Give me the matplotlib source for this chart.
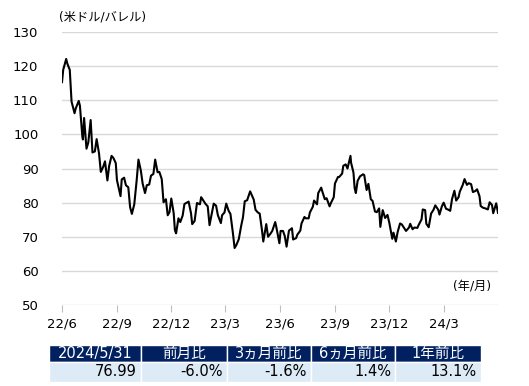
import numpy as np
import pandas as pd
import matplotlib
matplotlib.use('Agg')
import matplotlib.pyplot as plt
from matplotlib.patches import Rectangle

plt.rcParams['font.family'] = ['DejaVu Sans', 'Noto Sans CJK JP']

# WTI crude, USD/barrel
dates = [
    '2022-06-01', '2022-06-03', '2022-06-08', '2022-06-10', '2022-06-14', '2022-06-17', '2022-06-22', '2022-06-24',
    '2022-06-29', '2022-07-01', '2022-07-05', '2022-07-06', '2022-07-08', '2022-07-12', '2022-07-15', '2022-07-19',
    '2022-07-22', '2022-07-26', '2022-07-29', '2022-08-02', '2022-08-05', '2022-08-09', '2022-08-12', '2022-08-16',
    '2022-08-19', '2022-08-23', '2022-08-26', '2022-08-30', '2022-09-01', '2022-09-07', '2022-09-09', '2022-09-13',
    '2022-09-16', '2022-09-20', '2022-09-23', '2022-09-26', '2022-09-30', '2022-10-04', '2022-10-07', '2022-10-11',
    '2022-10-14', '2022-10-18', '2022-10-21', '2022-10-25', '2022-10-28', '2022-11-01', '2022-11-04', '2022-11-08',
    '2022-11-11', '2022-11-15', '2022-11-18', '2022-11-22', '2022-11-25', '2022-11-28', '2022-12-01', '2022-12-05',
    '2022-12-07', '2022-12-09', '2022-12-13', '2022-12-16', '2022-12-20', '2022-12-23', '2022-12-30',
    '2023-01-03', '2023-01-05', '2023-01-09', '2023-01-13', '2023-01-18', '2023-01-20', '2023-01-25', '2023-01-27',
    '2023-01-31', '2023-02-03', '2023-02-07', '2023-02-10', '2023-02-14', '2023-02-17', '2023-02-22', '2023-02-24',
    '2023-02-28', '2023-03-03', '2023-03-07', '2023-03-10', '2023-03-14', '2023-03-17', '2023-03-20', '2023-03-24',
    '2023-03-28', '2023-03-31', '2023-04-03', '2023-04-07', '2023-04-12', '2023-04-14', '2023-04-18', '2023-04-21',
    '2023-04-25', '2023-04-28', '2023-05-02', '2023-05-04', '2023-05-09', '2023-05-12', '2023-05-16', '2023-05-19',
    '2023-05-24', '2023-05-26', '2023-05-31', '2023-06-02', '2023-06-06', '2023-06-09', '2023-06-12', '2023-06-16',
    '2023-06-21', '2023-06-23', '2023-06-28', '2023-06-30', '2023-07-05', '2023-07-07', '2023-07-12', '2023-07-14',
    '2023-07-19', '2023-07-21', '2023-07-26', '2023-07-28', '2023-08-02', '2023-08-04', '2023-08-09', '2023-08-11',
    '2023-08-15', '2023-08-18', '2023-08-23', '2023-08-25', '2023-08-30', '2023-09-01', '2023-09-06', '2023-09-08',
    '2023-09-13', '2023-09-15', '2023-09-19', '2023-09-22', '2023-09-27', '2023-09-28', '2023-10-02', '2023-10-04',
    '2023-10-06', '2023-10-09', '2023-10-13', '2023-10-18', '2023-10-20', '2023-10-24', '2023-10-27', '2023-10-31',
    '2023-11-03', '2023-11-07', '2023-11-10', '2023-11-14', '2023-11-16', '2023-11-20', '2023-11-24', '2023-11-28',
    '2023-12-01', '2023-12-06', '2023-12-08', '2023-12-12', '2023-12-15', '2023-12-19', '2023-12-22', '2023-12-29',
    '2024-01-03', '2024-01-05', '2024-01-09', '2024-01-12', '2024-01-17', '2024-01-19', '2024-01-24', '2024-01-26',
    '2024-01-30', '2024-02-01', '2024-02-05', '2024-02-09', '2024-02-13', '2024-02-16', '2024-02-21', '2024-02-23',
    '2024-02-27', '2024-03-01', '2024-03-05', '2024-03-08', '2024-03-12', '2024-03-15', '2024-03-19', '2024-03-22',
    '2024-03-26', '2024-03-28', '2024-04-02', '2024-04-05', '2024-04-09', '2024-04-12', '2024-04-16', '2024-04-19',
    '2024-04-23', '2024-04-26', '2024-04-30', '2024-05-02', '2024-05-06', '2024-05-10', '2024-05-14', '2024-05-17',
    '2024-05-21', '2024-05-23', '2024-05-28', '2024-05-31',
]
prices = [
    115.3, 118.9, 122.1, 120.7, 118.9, 109.6, 106.2, 107.6,
    109.8, 108.4, 99.5, 98.5, 104.8, 95.8, 97.6, 104.2,
    94.7, 95.0, 98.6, 94.4, 89.0, 90.5, 92.1, 86.5,
    90.8, 93.7, 93.1, 91.6, 86.6, 81.9, 86.8, 87.3,
    85.1, 84.5, 78.7, 76.7, 79.5, 86.5, 92.6, 89.4,
    85.6, 82.8, 85.1, 85.3, 87.9, 88.4, 92.6, 88.9,
    89.0, 86.9, 80.1, 81.0, 76.3, 77.2, 81.2, 76.9,
    72.0, 71.0, 75.4, 74.3, 76.2, 79.6, 80.3,
    76.9, 73.7, 74.6, 79.9, 79.5, 81.6, 80.2, 79.7,
    78.9, 73.4, 77.1, 79.7, 79.1, 76.3, 74.0, 76.3,
    77.1, 79.7, 77.6, 76.7, 71.3, 66.7, 67.6, 69.3,
    73.2, 75.7, 80.4, 80.7, 83.3, 82.5, 80.9, 77.9,
    77.1, 76.8, 71.7, 68.6, 73.7, 70.0, 70.9, 71.7,
    74.3, 72.7, 68.1, 71.7, 71.7, 70.2, 67.1, 71.8,
    72.5, 69.2, 69.6, 70.6, 71.8, 73.9, 75.8, 75.4,
    75.4, 77.1, 78.8, 80.6, 79.5, 82.8, 84.4, 83.2,
    81.0, 81.3, 78.9, 79.8, 81.6, 85.6, 87.5, 87.5,
    88.5, 90.8, 91.2, 90.0, 93.7, 91.7, 88.8, 84.2,
    82.8, 86.4, 87.7, 88.3, 88.1, 83.7, 85.5, 81.0,
    80.5, 77.4, 77.2, 78.3, 72.9, 77.8, 75.5, 76.4,
    74.1, 69.4, 71.2, 68.6, 71.4, 73.9, 73.6, 71.7,
    72.7, 73.8, 72.2, 72.7, 72.6, 73.4, 75.1, 78.0,
    77.8, 73.8, 72.8, 76.8, 77.9, 79.2, 77.9, 76.5,
    78.9, 80.0, 78.2, 78.0, 77.6, 81.0, 83.5, 80.6,
    81.6, 83.2, 85.2, 86.9, 85.2, 85.7, 85.4, 83.1,
    83.4, 83.9, 81.9, 79.0, 78.5, 78.3, 78.0, 80.1,
    79.3, 76.9, 79.8, 77.0,
]

tick_dates = ['2022-06-01', '2022-09-01', '2022-12-01', '2023-03-01',
              '2023-06-01', '2023-09-01', '2023-12-01', '2024-03-01']
tick_labels = ['22/6', '22/9', '22/12', '23/3', '23/6', '23/9', '23/12', '24/3']

table_header = ['2024/5/31', '前月比', '3ヵ月前比', '6ヵ月前比', '1年前比']
table_values = ['76.99', '-6.0%', '-1.6%', '1.4%', '13.1%']

x = pd.to_datetime(dates)

fig = plt.figure(figsize=(5.29, 3.86), dpi=100)
ax = fig.add_axes([62 / 529, 81 / 386, 436 / 529, 273 / 386])
ax.plot(x, prices, color='black', lw=1.5, solid_joinstyle='round')

ax.set_xlim(pd.Timestamp('2022-06-01'), pd.Timestamp('2024-05-31'))
ax.set_ylim(50, 130)
ax.set_yticks(np.arange(50, 131, 10))
ax.grid(axis='y', color='#d9d9d9', lw=1)
ax.set_axisbelow(True)
for s in ax.spines.values():
    s.set_visible(False)

ax.set_xticks(pd.to_datetime(tick_dates))
ax.set_xticklabels(tick_labels)
ax.tick_params(axis='x', length=5, color='#bfbfbf', pad=4, labelsize=9.5)
ax.tick_params(axis='y', length=0, pad=17, labelsize=9.5)

fig.text(59 / 529, 1 - 17 / 386, '(米ドル/バレル)', fontsize=8.8, va='center', ha='left')
fig.text(491 / 529, 1 - 286 / 386, '(年/月)', fontsize=8.8, va='center', ha='right')

# summary table below the chart
col_edges = [49, 141, 227, 311, 395, 481]
W, H = 529, 386
for i in range(5):
    x0, x1 = col_edges[i], col_edges[i + 1]
    fig.patches.append(Rectangle((x0 / W, 1 - 362 / H), (x1 - x0) / W, 17 / H,
                                 transform=fig.transFigure, facecolor='#002060',
                                 edgecolor='white', lw=1))
    fig.patches.append(Rectangle((x0 / W, 1 - 382 / H), (x1 - x0) / W, 20 / H,
                                 transform=fig.transFigure, facecolor='#ddebf7',
                                 edgecolor='white', lw=1))
    fig.text((x0 + x1) / 2 / W, 1 - 353.5 / H, table_header[i], color='white',
             fontsize=10.5, ha='center', va='center')
    fig.text((x1 - 4) / W, 1 - 372 / H, table_values[i], color='black',
             fontsize=10.5, ha='right', va='center')

fig.savefig('out.png', dpi=100)
